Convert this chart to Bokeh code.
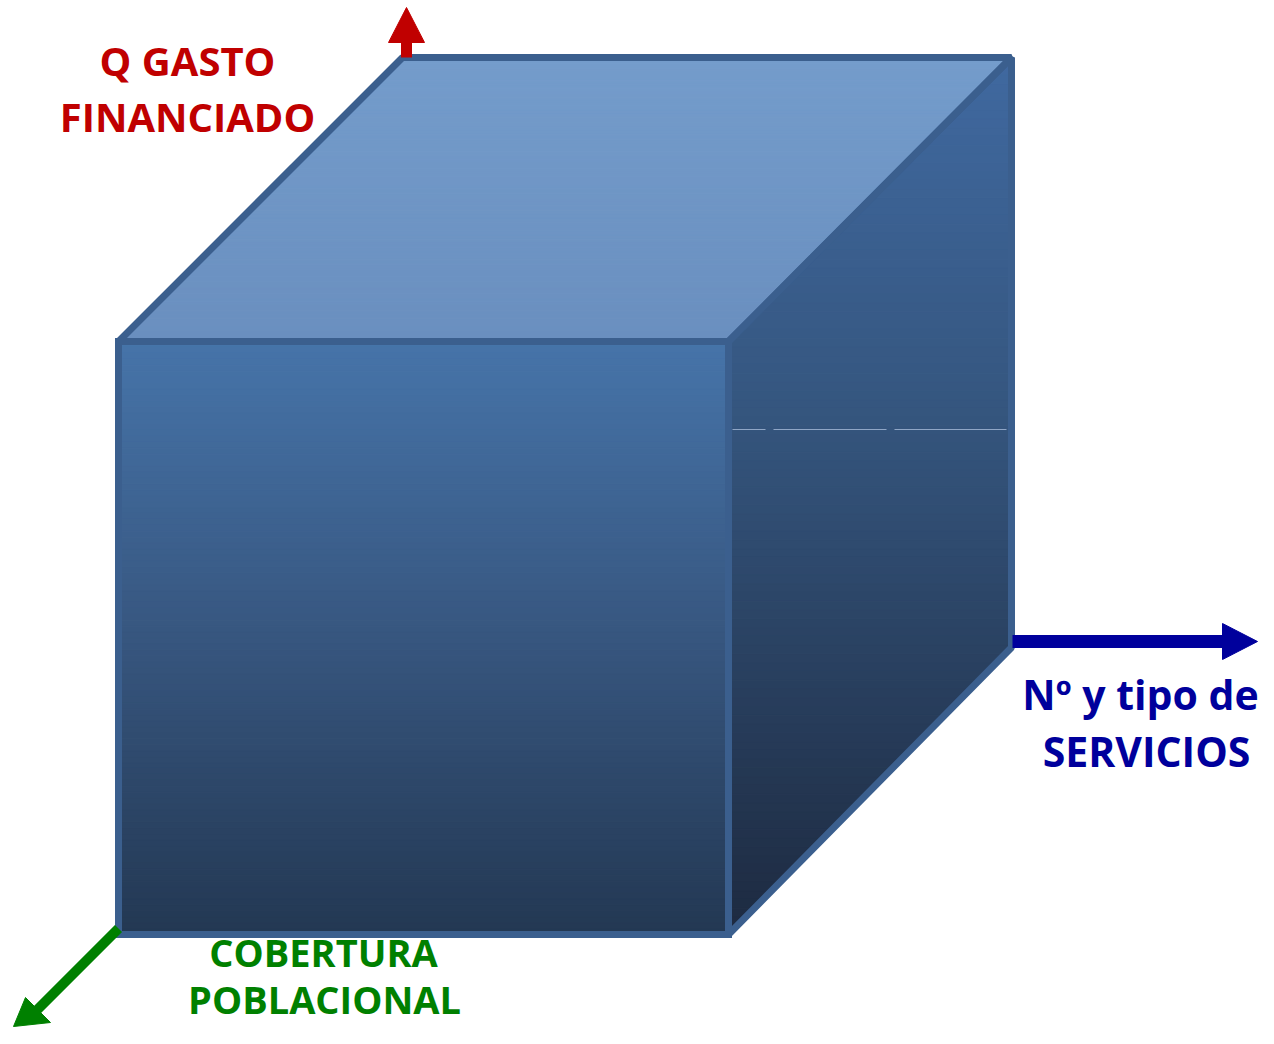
from bokeh.plotting import figure
from bokeh.models import Range1d
from bokeh.core.properties import value
from bokeh.embed import file_html
from bokeh.resources import INLINE

# ---- content (image pixel coordinates) ----
front_x = [118, 728, 728, 118]
front_y = [341, 341, 934, 934]
top_x = [118, 402, 1011, 728]
top_y = [341, 57, 57, 341]
right_x = [728, 1011, 1011, 728]
right_y = [341, 57, 647, 934]

axis_labels = ["Q GASTO", "FINANCIADO", "Nº y tipo de", "SERVICIOS", "COBERTURA", "POBLACIONAL"]
label_x = [187, 187, 1140, 1146, 323, 324]
label_y = [60, 116, 693, 750, 951, 998]
label_size = ["40px", "40px", "41px", "41px", "38px", "38px"]
label_colors = ["#c00000", "#c00000", "#00009c", "#00009c", "#008000", "#008000"]

red_arrow = dict(x0=406, y0=57, x1=406, y1=40, hx=[388, 424, 406], hy=[42, 42, 7], color="#c00000")
blue_arrow = dict(x0=1012, y0=641, x1=1226, y1=641, hx=[1222, 1222, 1257], hy=[623, 659, 641], color="#00009c")
green_arrow = dict(x0=118, y0=928, x1=36, y1=1010, hx=[25, 50, 13], hy=[997, 1022, 1026], color="#008000")

border_color = "#3b5f8e"

p = figure(width=1258, height=1028, output_backend="svg", toolbar_location=None,
           x_range=Range1d(0, 1258), y_range=Range1d(1028, 0), min_border=0)
p.axis.visible = False
p.grid.visible = False
p.outline_line_color = None
p.background_fill_color = "white"
p.border_fill_color = "white"


def hex2rgb(h):
    h = h.lstrip("#")
    return [int(h[i:i + 2], 16) for i in (0, 2, 4)]


def lerp_color(stops, t):
    for (t0, c0), (t1, c1) in zip(stops[:-1], stops[1:]):
        if t <= t1:
            f = 0 if t1 == t0 else (t - t0) / (t1 - t0)
            a, b = hex2rgb(c0), hex2rgb(c1)
            return "#%02x%02x%02x" % tuple(int(round(a[i] + (b[i] - a[i]) * f)) for i in range(3))
    return stops[-1][1]


def clip(poly, y0, y1):
    def clip_edge(pts, inside, inter):
        out = []
        n = len(pts)
        for i in range(n):
            cur, prev = pts[i], pts[i - 1]
            if inside(cur):
                if not inside(prev):
                    out.append(inter(prev, cur))
                out.append(cur)
            elif inside(prev):
                out.append(inter(prev, cur))
        return out

    def inter_y(yy):
        def f(a, b):
            t = (yy - a[1]) / (b[1] - a[1])
            return (a[0] + t * (b[0] - a[0]), yy)
        return f

    pts = clip_edge(poly, lambda q: q[1] >= y0, inter_y(y0))
    if not pts:
        return pts
    pts = clip_edge(pts, lambda q: q[1] <= y1, inter_y(y1))
    return pts


def gradient_face(xs, ys, stops, n=100):
    poly = list(zip(xs, ys))
    ymin, ymax = min(ys), max(ys)
    pxs, pys, cols = [], [], []
    for i in range(n):
        a = ymin + (ymax - ymin) * i / n
        b = ymin + (ymax - ymin) * (i + 1) / n
        pts = clip(poly, a, b)
        if len(pts) < 3:
            continue
        pxs.append([q[0] for q in pts])
        pys.append([q[1] for q in pts])
        cols.append(lerp_color(stops, (i + 0.5) / n))
    p.patches(pxs, pys, fill_color=cols, line_color=cols, line_width=1.2)


gradient_face(top_x, top_y, [(0, "#749ccb"), (1, "#6a8fbf")])
gradient_face(right_x, right_y, [(0, "#4069a0"), (0.4, "#35567f"), (1, "#1d2a40")])
gradient_face(front_x, front_y, [(0, "#4674a9"), (0.5, "#37567f"), (1, "#233853")])

# faint highlight line across the right face
p.segment(x0=[732, 773, 894], y0=[429, 429, 429], x1=[765, 886, 1006], y1=[429, 429, 429],
          line_color="#8fa6c6", line_width=1.2)

# inner edge of the right face (slightly lighter border)
p.line([731, 1007], [337, 61], line_color="#3a5d8b", line_width=3)

# borders
p.patch(top_x, top_y, fill_color=None, line_color=border_color, line_width=7, line_join="bevel")
p.patch(right_x, right_y, fill_color=None, line_color=border_color, line_width=7, line_join="bevel")
p.patch(front_x, front_y, fill_color=None, line_color=border_color, line_width=7, line_join="miter")

# arrows
for a, w in [(red_arrow, 11), (blue_arrow, 13), (green_arrow, 10)]:
    p.line([a["x0"], a["x1"]], [a["y0"], a["y1"]], line_color=a["color"], line_width=w)
    p.patch(a["hx"], a["hy"], fill_color=a["color"], line_color=a["color"], line_width=1)

p.text(x=label_x, y=label_y, text=axis_labels, text_color=label_colors,
       text_font=value("Open Sans"), text_font_style="bold", text_font_size=label_size,
       text_align="center", text_baseline="alphabetic")

open("out.html", "w").write(file_html(p, INLINE))
